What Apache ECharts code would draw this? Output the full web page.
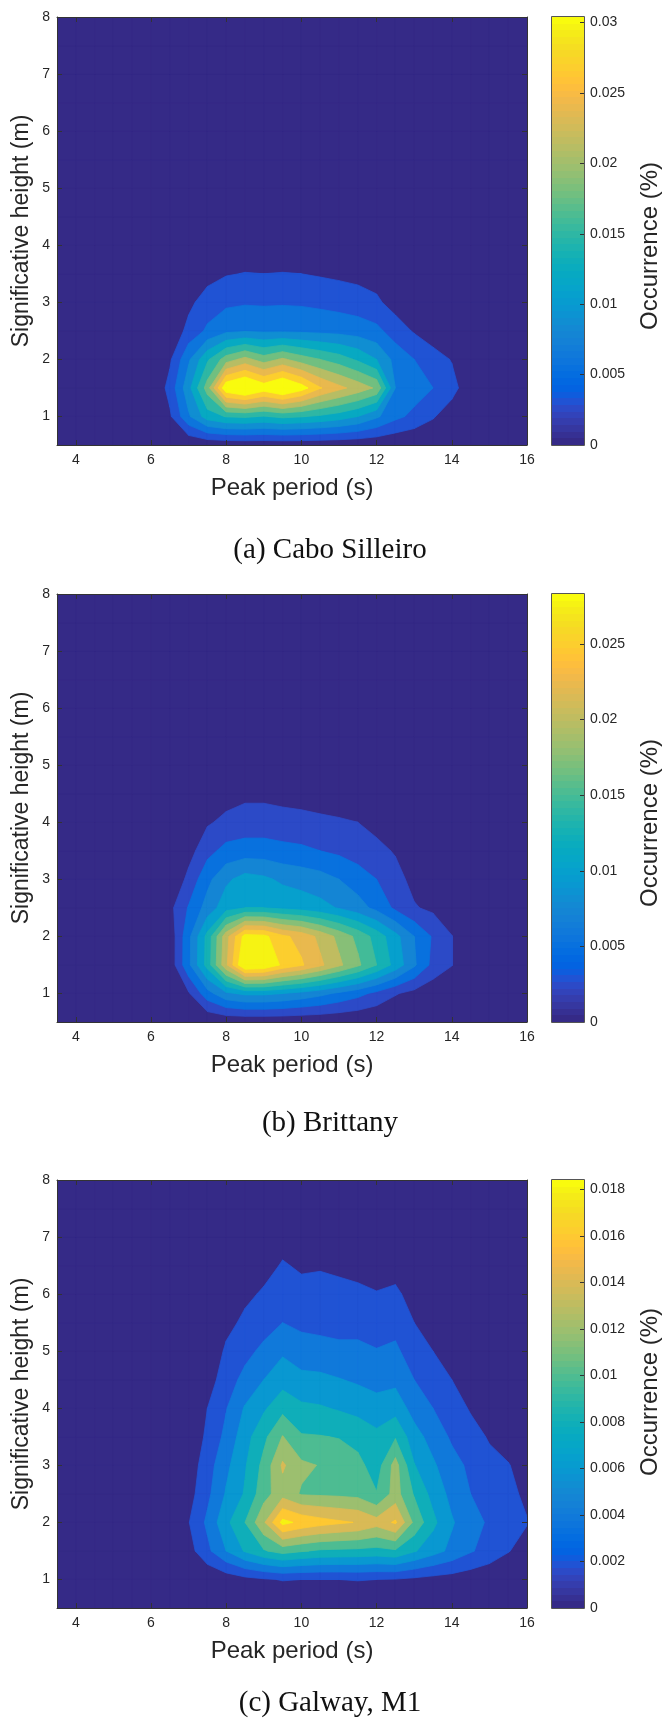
<!DOCTYPE html>
<html>
<head>
<meta charset="utf-8">
<script src="https://cdn.jsdelivr.net/npm/echarts@6/dist/echarts.min.js"></script>
<style>
html,body{margin:0;padding:0;background:#ffffff;}
#chart{width:663px;height:1720px;}
</style>
</head>
<body>
<div id="chart"></div>
<script>
// ---------------- DATA ----------------
const tpValues = [3.5,4,4.5,5,5.5,6,6.5,7,7.5,8,8.5,9,9.5,10,10.5,11,11.5,12,12.5,13,13.5,14,14.5,15,15.5,16];
const hsValues = [0.5,1,1.5,2,2.5,3,3.5,4,4.5,5,5.5,6,6.5,7,7.5,8];

// Occurrence (%) on the Tp x Hs grid, one row per Hs value (0.5 .. 8 m)
const caboSilleiro = [
 [0,0,0,0,0,0, 0,0.0002,0.0005,0.0007,0.0008,0.0008,0.0008,0.0008,0.0007,0.0006,0.0005,0.0004,0.0002,0,0,0,0,0,0,0],
 [0,0,0,0,0,0, 0.0025,0.0085,0.0135,0.0152,0.0155,0.0148,0.0157,0.0152,0.0145,0.0135,0.012,0.0095,0.0068,0.0052,0.0033,0.0012,0,0,0,0],
 [0,0,0,0,0,0, 0.004,0.011,0.0194,0.0327,0.035,0.032,0.0345,0.0315,0.0272,0.0248,0.0228,0.0205,0.009,0.0075,0.006,0.0042,0.0008,0,0,0],
 [0,0,0,0,0,0, 0.0025,0.0085,0.0145,0.0195,0.022,0.0195,0.0215,0.0195,0.018,0.0165,0.0145,0.012,0.008,0.006,0.0045,0.0028,0.0005,0,0,0],
 [0,0,0,0,0,0, 0.0003,0.004,0.0065,0.0083,0.0087,0.0085,0.0085,0.0084,0.0082,0.008,0.0076,0.0068,0.0045,0.0027,0.001,0,0,0,0,0],
 [0,0,0,0,0,0, 0,0.0022,0.0045,0.0054,0.0057,0.0056,0.0057,0.0056,0.0053,0.0049,0.0044,0.0035,0.0018,0.0005,0,0,0,0,0,0],
 [0,0,0,0,0,0, 0,0.0003,0.0018,0.0028,0.0031,0.003,0.0031,0.003,0.0027,0.0024,0.0021,0.0018,0.001,0,0,0,0,0,0,0],
 [0,0,0,0,0,0, 0,0,0.0003,0.0008,0.0012,0.0012,0.0012,0.001,0.0008,0.0006,0.0004,0.0002,0,0,0,0,0,0,0,0],
 [0,0,0,0,0,0, 0,0,0,0,0.0003,0.0003,0.0003,0.0002,0,0,0,0,0,0,0,0,0,0,0,0],
 [0,0,0,0,0,0, 0,0,0,0,0,0,0,0,0,0,0,0,0,0,0,0,0,0,0,0],
 [0,0,0,0,0,0, 0,0,0,0,0,0,0,0,0,0,0,0,0,0,0,0,0,0,0,0],
 [0,0,0,0,0,0, 0,0,0,0,0,0,0,0,0,0,0,0,0,0,0,0,0,0,0,0],
 [0,0,0,0,0,0, 0,0,0,0,0,0,0,0,0,0,0,0,0,0,0,0,0,0,0,0],
 [0,0,0,0,0,0, 0,0,0,0,0,0,0,0,0,0,0,0,0,0,0,0,0,0,0,0],
 [0,0,0,0,0,0, 0,0,0,0,0,0,0,0,0,0,0,0,0,0,0,0,0,0,0,0],
 [0,0,0,0,0,0, 0,0,0,0,0,0,0,0,0,0,0,0,0,0,0,0,0,0,0,0]
];
const brittany = [
 [0,0,0,0,0,0, 0,0,0.0002,0.0004,0.0005,0.0005,0.0005,0.0004,0.0004,0.0003,0.0002,0.0001,0,0,0,0,0,0,0,0],
 [0,0,0,0,0,0, 0,0.0022,0.0065,0.0095,0.0105,0.0105,0.01,0.0092,0.0082,0.007,0.0058,0.0043,0.0027,0.0017,0.0008,0,0,0,0,0],
 [0,0,0,0,0,0, 0.0008,0.0069,0.0135,0.022,0.0305,0.03,0.027,0.0253,0.023,0.0205,0.018,0.015,0.0116,0.0079,0.0042,0.0026,0,0,0,0],
 [0,0,0,0,0,0, 0.0008,0.0068,0.0133,0.0215,0.0285,0.0282,0.0255,0.0242,0.0218,0.0193,0.0168,0.014,0.0108,0.0075,0.0047,0.0026,0,0,0,0],
 [0,0,0,0,0,0, 0.0018,0.0052,0.0085,0.0115,0.0125,0.0125,0.012,0.0115,0.0108,0.0098,0.0085,0.0068,0.0045,0.0027,0.002,0.0003,0,0,0,0],
 [0,0,0,0,0,0, 0,0.0032,0.0068,0.0095,0.011,0.0105,0.0095,0.009,0.0085,0.0075,0.0063,0.005,0.0033,0.0018,0.0005,0,0,0,0,0],
 [0,0,0,0,0,0, 0,0.0015,0.0042,0.0058,0.0062,0.0062,0.0058,0.0055,0.005,0.0045,0.0038,0.0031,0.0023,0.001,0,0,0,0,0,0],
 [0,0,0,0,0,0, 0,0.0003,0.0022,0.0031,0.0035,0.0035,0.0033,0.0032,0.003,0.0028,0.0025,0.0018,0.001,0,0,0,0,0,0,0],
 [0,0,0,0,0,0, 0,0,0.0005,0.0015,0.002,0.002,0.0018,0.0016,0.0013,0.001,0.0007,0.0004,0,0,0,0,0,0,0,0],
 [0,0,0,0,0,0, 0,0,0,0.0002,0.0005,0.0005,0.0004,0.0003,0.0002,0,0,0,0,0,0,0,0,0,0,0],
 [0,0,0,0,0,0, 0,0,0,0,0,0,0,0,0,0,0,0,0,0,0,0,0,0,0,0],
 [0,0,0,0,0,0, 0,0,0,0,0,0,0,0,0,0,0,0,0,0,0,0,0,0,0,0],
 [0,0,0,0,0,0, 0,0,0,0,0,0,0,0,0,0,0,0,0,0,0,0,0,0,0,0],
 [0,0,0,0,0,0, 0,0,0,0,0,0,0,0,0,0,0,0,0,0,0,0,0,0,0,0],
 [0,0,0,0,0,0, 0,0,0,0,0,0,0,0,0,0,0,0,0,0,0,0,0,0,0,0],
 [0,0,0,0,0,0, 0,0,0,0,0,0,0,0,0,0,0,0,0,0,0,0,0,0,0,0]
];
const galwayM1 = [
 [0,0,0,0,0,0, 0,0,0,0,0,0,0,0,0,0,0,0,0,0,0,0,0,0,0,0],
 [0,0,0,0,0,0, 0,0,0.0003,0.0008,0.0014,0.0018,0.0021,0.002,0.002,0.002,0.0021,0.002,0.0019,0.0016,0.0013,0.0011,0.0008,0.0005,0.0003,0],
 [0,0,0,0,0,0, 0,0.0012,0.0035,0.006,0.0082,0.0098,0.0108,0.0102,0.0097,0.0096,0.0095,0.0093,0.0097,0.0082,0.0068,0.0055,0.0042,0.0032,0.0021,0.0012],
 [0,0,0,0,0,0, 0.0003,0.0019,0.0044,0.0075,0.01,0.0137,0.0186,0.0175,0.0168,0.0163,0.0159,0.0148,0.0163,0.0115,0.0085,0.0062,0.0048,0.0037,0.0028,0.0021],
 [0,0,0,0,0,0, 0,0.0012,0.0035,0.0062,0.0082,0.0112,0.0132,0.0118,0.0117,0.0116,0.0114,0.0101,0.0128,0.0098,0.0073,0.0054,0.004,0.0031,0.0025,0.0016],
 [0,0,0,0,0,0, 0,0.0008,0.0031,0.0055,0.0078,0.0106,0.0143,0.0124,0.0119,0.0113,0.0106,0.009,0.0128,0.0081,0.0063,0.0047,0.0036,0.0026,0.0021,0.0012],
 [0,0,0,0,0,0, 0,0,0.0025,0.0045,0.0072,0.0095,0.0121,0.0102,0.0101,0.0099,0.0093,0.0085,0.0098,0.0068,0.0052,0.0037,0.0028,0.0018,0.0012,0.0003],
 [0,0,0,0,0,0, 0,0,0.002,0.0039,0.0062,0.0077,0.0094,0.0084,0.0082,0.0078,0.0074,0.0068,0.0072,0.0052,0.004,0.003,0.0018,0.001,0.0003,0],
 [0,0,0,0,0,0, 0,0,0.0009,0.0032,0.0045,0.006,0.0072,0.0066,0.0065,0.0061,0.0057,0.0053,0.0055,0.004,0.003,0.002,0.0012,0.0003,0,0],
 [0,0,0,0,0,0, 0,0,0,0.0024,0.0035,0.0044,0.0057,0.0048,0.0046,0.0044,0.0044,0.0041,0.0044,0.0029,0.002,0.0013,0.0005,0,0,0],
 [0,0,0,0,0,0, 0,0,0,0.0013,0.0025,0.0033,0.004,0.0036,0.0035,0.0034,0.0034,0.0031,0.0033,0.002,0.0012,0.0005,0,0,0,0],
 [0,0,0,0,0,0, 0,0,0,0.0005,0.0015,0.0023,0.0031,0.0027,0.0028,0.0026,0.0024,0.0021,0.0024,0.0012,0.0005,0,0,0,0,0],
 [0,0,0,0,0,0, 0,0,0,0,0.0004,0.0012,0.0022,0.0017,0.0018,0.0016,0.0014,0.0012,0.0012,0.0003,0,0,0,0,0,0],
 [0,0,0,0,0,0, 0,0,0,0,0,0.0003,0.0012,0.0008,0.0008,0.0006,0.0004,0.0005,0.0005,0,0,0,0,0,0,0],
 [0,0,0,0,0,0, 0,0,0,0,0,0,0.0003,0.0002,0.0002,0,0,0,0,0,0,0,0,0,0,0],
 [0,0,0,0,0,0, 0,0,0,0,0,0,0,0,0,0,0,0,0,0,0,0,0,0,0,0]
];

// contour levels
const caboLevels = [0,0.003,0.006,0.009,0.012,0.015,0.018,0.021,0.024,0.027,0.03];
const brittanyLevels = [0,0.0025,0.005,0.0075,0.01,0.0125,0.015,0.0175,0.02,0.0225,0.025,0.0275];
const galwayLevels = [0,0.002,0.004,0.006,0.008,0.01,0.012,0.014,0.016,0.018];

// colour-bar ranges and ticks
const caboColorMax = 0.0304, brittanyColorMax = 0.0283, galwayColorMax = 0.0184;
const caboBarTicks = [0,0.005,0.01,0.015,0.02,0.025,0.03];
const brittanyBarTicks = [0,0.005,0.01,0.015,0.02,0.025];
const galwayBarTicks = [0,0.002,0.004,0.006,0.008,0.01,0.012,0.014,0.016,0.018];

const xTicks = [4,6,8,10,12,14,16];
const yTicks = [1,2,3,4,5,6,7,8];
const captions = ['(a) Cabo Silleiro','(b) Brittany','(c) Galway, M1'];
const xTitle = 'Peak period (s)';
const yTitle = 'Significative height (m)';
const barTitle = 'Occurrence (%)';

// ---------------- parula colormap ----------------
const parula = [
[0.2081,0.1663,0.5292],[0.2116,0.1898,0.5777],[0.2123,0.2138,0.6270],[0.2081,0.2386,0.6771],
[0.1959,0.2645,0.7279],[0.1707,0.2919,0.7792],[0.1253,0.3242,0.8303],[0.0591,0.3598,0.8683],
[0.0117,0.3875,0.8820],[0.0060,0.4086,0.8828],[0.0165,0.4266,0.8786],[0.0329,0.4430,0.8720],
[0.0498,0.4586,0.8641],[0.0629,0.4737,0.8554],[0.0723,0.4887,0.8467],[0.0779,0.5040,0.8384],
[0.0793,0.5200,0.8312],[0.0749,0.5375,0.8263],[0.0641,0.5570,0.8240],[0.0488,0.5772,0.8228],
[0.0343,0.5966,0.8199],[0.0265,0.6137,0.8135],[0.0239,0.6287,0.8038],[0.0231,0.6418,0.7913],
[0.0228,0.6535,0.7768],[0.0267,0.6642,0.7607],[0.0384,0.6743,0.7436],[0.0590,0.6838,0.7254],
[0.0843,0.6928,0.7062],[0.1133,0.7015,0.6859],[0.1453,0.7098,0.6646],[0.1801,0.7177,0.6424],
[0.2178,0.7250,0.6193],[0.2586,0.7317,0.5954],[0.3022,0.7376,0.5712],[0.3482,0.7424,0.5473],
[0.3953,0.7459,0.5244],[0.4420,0.7481,0.5033],[0.4871,0.7491,0.4840],[0.5300,0.7491,0.4661],
[0.5709,0.7485,0.4494],[0.6099,0.7473,0.4337],[0.6473,0.7456,0.4188],[0.6834,0.7435,0.4044],
[0.7184,0.7411,0.3905],[0.7525,0.7384,0.3768],[0.7858,0.7356,0.3633],[0.8185,0.7327,0.3498],
[0.8507,0.7299,0.3360],[0.8824,0.7274,0.3217],[0.9139,0.7258,0.3063],[0.9450,0.7261,0.2886],
[0.9739,0.7314,0.2666],[0.9938,0.7455,0.2403],[0.9990,0.7653,0.2164],[0.9955,0.7861,0.1967],
[0.9880,0.8066,0.1794],[0.9789,0.8271,0.1633],[0.9697,0.8481,0.1475],[0.9626,0.8705,0.1309],
[0.9589,0.8949,0.1132],[0.9598,0.9218,0.0948],[0.9661,0.9514,0.0755],[0.9763,0.9831,0.0538]
];
const hex = c => '#' + c.map(v => Math.round(v * 255).toString(16).padStart(2, '0')).join('');
const parulaHex = parula.map(hex);

// ---------------- layout ----------------
const LAY = { left: 57, width: 470, height: 428, tops: [17, 594, 1180], cbLeft: 552, cbWidth: 32,
  barLabelY: [246, 823, 1392], captionY: [550, 1123, 1703] };
const FONT = '"Liberation Sans", Arial, Helvetica, sans-serif';
const TXT = '#262626';

const panels = [
  { z: caboSilleiro, levels: caboLevels, cmax: caboColorMax, ticks: caboBarTicks, caption: captions[0] },
  { z: brittany, levels: brittanyLevels, cmax: brittanyColorMax, ticks: brittanyBarTicks, caption: captions[1] },
  { z: galwayM1, levels: galwayLevels, cmax: galwayColorMax, ticks: galwayBarTicks, caption: captions[2] }
];

function clipAbove(poly, level) {
  const out = [];
  for (let i = 0; i < poly.length; i++) {
    const a = poly[i], b = poly[(i + 1) % poly.length];
    const ina = a[2] >= level, inb = b[2] >= level;
    if (ina) out.push(a);
    if (ina !== inb) {
      const t = (level - a[2]) / (b[2] - a[2]);
      out.push([a[0] + t * (b[0] - a[0]), a[1] + t * (b[1] - a[1]), level]);
    }
  }
  return out;
}

function cellData() {
  const d = [];
  for (let j = 0; j < hsValues.length - 1; j++)
    for (let i = 0; i < tpValues.length - 1; i++)
      d.push([(tpValues[i] + tpValues[i + 1]) / 2, (hsValues[j] + hsValues[j + 1]) / 2, i, j]);
  return d;
}

const grids = [], xAxes = [], yAxes = [], series = [], graphics = [];
const fmt = v => String(Number(v.toFixed(4)));

panels.forEach((p, k) => {
  const top = LAY.tops[k];
  const colors = p.levels.map(l => parulaHex[Math.min(63, Math.floor(l / p.cmax * 64 + 1e-9))]);
  const gi = grids.length;
  grids.push({ left: LAY.left, top: top, width: LAY.width, height: LAY.height, show: true,
    backgroundColor: parulaHex[0], borderWidth: 0, containLabel: false, outerBoundsMode: 'none' });
  const axisLine = { show: true, onZero: false, lineStyle: { color: '#333333', width: 1 } };
  const tick = (vals) => ({ show: true, inside: true, length: 5, customValues: vals, lineStyle: { color: '#333333', width: 1 } });
  const xb = xAxes.length;
  xAxes.push({ type: 'value', gridIndex: gi, position: 'bottom', min: 3.5, max: 16, z: 10,
    axisLine, axisTick: tick(xTicks), splitLine: { show: false },
    axisLabel: { customValues: xTicks, color: TXT, fontSize: 14, fontFamily: FONT, margin: 8 },
    name: xTitle, nameLocation: 'middle', nameGap: 31, nameMoveOverlap: false,
    nameTextStyle: { color: TXT, fontSize: 24, fontFamily: FONT } });
  xAxes.push({ type: 'value', gridIndex: gi, position: 'top', min: 3.5, max: 16, z: 10,
    axisLine, axisTick: tick(xTicks), splitLine: { show: false }, axisLabel: { show: false } });
  const yl = yAxes.length;
  yAxes.push({ type: 'value', gridIndex: gi, position: 'left', min: 0.5, max: 8, z: 10,
    axisLine, axisTick: tick(yTicks), splitLine: { show: false },
    axisLabel: { customValues: yTicks, color: TXT, fontSize: 14, fontFamily: FONT, margin: 7 },
    name: yTitle, nameLocation: 'middle', nameGap: 24, nameMoveOverlap: false,
    nameTextStyle: { color: TXT, fontSize: 23, fontFamily: FONT } });
  yAxes.push({ type: 'value', gridIndex: gi, position: 'right', min: 0.5, max: 8, z: 10,
    axisLine, axisTick: tick(yTicks), splitLine: { show: false }, axisLabel: { show: false } });

  const z = p.z, levels = p.levels;
  series.push({
    type: 'custom', xAxisIndex: xb, yAxisIndex: yl, clip: true, silent: true,
    encode: { x: 0, y: 1 }, data: cellData(),
    renderItem: (params, api) => {
      const i = api.value(2), j = api.value(3);
      const x0 = tpValues[i], x1 = tpValues[i + 1], y0 = hsValues[j], y1 = hsValues[j + 1];
      const cell = [[x0, y0, z[j][i]], [x1, y0, z[j][i + 1]], [x1, y1, z[j + 1][i + 1]], [x0, y1, z[j + 1][i]]];
      const children = [];
      levels.forEach((lv, li) => {
        const poly = li === 0 ? cell : clipAbove(cell, lv);
        if (poly.length < 3) return;
        const pts = poly.map(q => api.coord([q[0], q[1]]));
        children.push({ type: 'polygon', z2: li * 2, shape: { points: pts },
          style: { fill: colors[li], stroke: colors[li], lineWidth: 0.8, lineJoin: 'round' } });
      });
      return { type: 'group', children };
    }
  });

  graphics.push({ type: 'text', x: 330, y: LAY.captionY[k], z: 50,
    style: { text: p.caption, font: '29px "Liberation Serif", "Times New Roman", serif', fill: '#111111',
      align: 'center', verticalAlign: 'middle' } });
});

// colour bars
panels.forEach((p, k) => {
  const top = LAY.tops[k];
  const gi = grids.length;
  grids.push({ left: LAY.cbLeft, top: top, width: LAY.cbWidth, height: LAY.height, show: false,
    containLabel: false, outerBoundsMode: 'none' });
  const xi = xAxes.length;
  xAxes.push({ type: 'category', gridIndex: gi, data: [barTitle], show: false, boundaryGap: true });
  const yi = yAxes.length;
  yAxes.push({ type: 'value', gridIndex: gi, position: 'right', min: 0, max: p.cmax, z: 10,
    axisLine: { show: false }, splitLine: { show: false },
    axisTick: { show: true, inside: true, length: 4, customValues: p.ticks, lineStyle: { color: '#333333', width: 1 } },
    axisLabel: { customValues: p.ticks, formatter: fmt, color: TXT, fontSize: 14, fontFamily: FONT, margin: 6 } });
  const stops = [];
  parulaHex.forEach((c, i) => {
    stops.push({ offset: i / 64, color: c });
    stops.push({ offset: Math.min(1, (i + 1) / 64 - 0.0001), color: c });
  });
  series.push({ type: 'bar', xAxisIndex: xi, yAxisIndex: yi, silent: true, barWidth: '100%',
    data: [p.cmax], itemStyle: { color: new echarts.graphic.LinearGradient(0, 1, 0, 0, stops) } });
  graphics.push({ type: 'rect', z: 60, shape: { x: LAY.cbLeft - 0.5, y: top - 0.5, width: LAY.cbWidth + 1, height: LAY.height + 1 },
    style: { fill: 'none', stroke: '#555555', lineWidth: 1 } });
  graphics.push({ type: 'text', x: 650, y: LAY.barLabelY[k], rotation: Math.PI / 2, z: 50,
    style: { text: barTitle, font: '24px ' + FONT, fill: TXT, align: 'center', verticalAlign: 'middle' } });
});

const chart = echarts.init(document.getElementById('chart'), null, { renderer: 'canvas', width: 663, height: 1720 });
chart.setOption({
  animation: false,
  backgroundColor: '#ffffff',
  grid: grids, xAxis: xAxes, yAxis: yAxes, series: series, graphic: graphics
});
</script>
</body>
</html>
